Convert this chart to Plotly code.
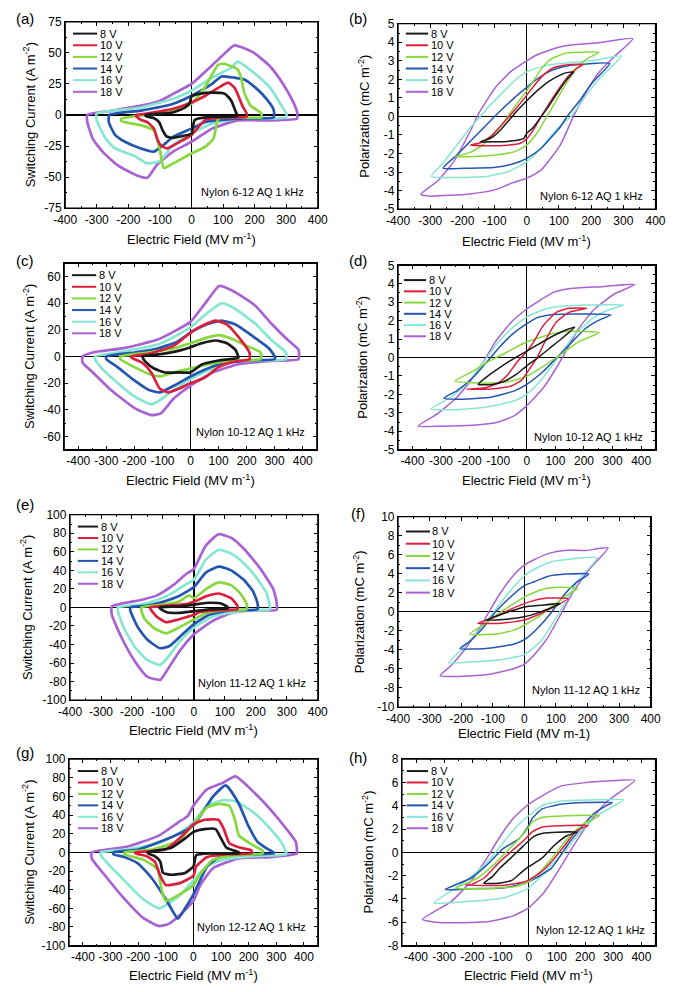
import plotly.graph_objects as go

W, H = 680, 992
FONT = "Liberation Sans, Arial, sans-serif"

VOLTAGES = ["8 V", "10 V", "12 V", "14 V", "16 V", "18 V"]
COLORS = ["#1a1a1a", "#dc1f3d", "#86d83c", "#2456b0", "#86e6d2", "#a862d2"]

# ---------------- (a) Nylon 6-12 switching current  [E (MV/m), J (A/m2)] ----------------
A_8V = [(-145, 0), (-100, 1), (-60, 2), (-20, 6), (-5, 10), (0, 15), (24, 17), (65, 18), (106, 17), (126, 11.5), (141, 2), (145, 0),
        (145, -1), (100, -1.5), (60, -1.5), (10, -4), (0, -15), (-30, -17), (-60, -18.5), (-80, -17), (-92, -12), (-102, -6), (-120, -2.5), (-145, -1)]
A_10V = [(-175, 0), (-160, 0.5), (-58, 5), (0, 10), (44, 15.5), (95, 23.4), (116, 26), (136, 22), (146, 17), (161, 7.5), (175, 1),
         (175, -1.5), (95, -2), (44, -4), (0, -16), (-37, -21.6), (-78, -27), (-99, -24), (-109, -19), (-119, -11), (-140, -5.7), (-160, -4), (-175, -1)]
A_12V = [(-222, -3), (-150, 0), (-88, 1.7), (-37, 5), (0, 9), (44, 23), (85, 40.5), (106, 41), (146, 36.6), (157, 30), (167, 18), (187, 7.5), (218, 2.2), (222, 0),
         (222, -2), (146, -2), (85, -3), (70, -19), (44, -25.5), (0, -31), (-58, -39), (-88, -42.7), (-99, -29.5), (-119, -12.3), (-160, -8.3), (-222, -5)]
A_14V = [(-260, 0), (-160, 3.5), (-58, 9), (0, 15.5), (65, 25), (95, 31), (136, 30), (167, 28.6), (208, 20.8), (238, 12.8), (259, 5), (262, 0),
         (260, -2), (146, -3), (44, -5.7), (0, -11), (-58, -17.6), (-88, -24), (-119, -29.5), (-160, -27), (-211, -21.6), (-242, -16), (-262, -5.7)]
A_16V = [(-300, 1), (-160, 6), (-58, 13), (0, 19.5), (65, 30), (126, 38), (146, 43), (198, 34), (249, 22), (279, 10), (300, 1),
         (300, -2), (146, -3), (65, -7), (0, -15), (-58, -24), (-99, -37), (-140, -39), (-180, -33), (-242, -27), (-272, -19), (-300, -4.5)]
A_18V = [(-330, 0), (-262, 3), (-160, 7.5), (-99, 11.5), (-58, 17), (0, 25), (44, 35), (95, 47), (136, 56), (198, 50), (249, 39), (290, 25), (320, 11.5), (335, 2), (335, 0),
         (335, -3), (249, -4.4), (146, -4.4), (65, -11), (0, -21.6), (-58, -29.5), (-109, -40), (-140, -50.6), (-170, -49), (-231, -41), (-282, -29.5), (-313, -19), (-330, -5.7)]

# ---------------- (b) Nylon 6-12 polarization  [E (MV/m), P (mC/m2)] ----------------
B_8V = [(145, 2.4), (120, 2.35), (100, 2.2), (70, 1.9), (40, 1.5), (0, 0.85), (-30, 0.3), (-50, -0.1), (-80, -0.7), (-110, -1.15), (-145, -1.37),
        (-100, -1.37), (-50, -1.33), (-10, -1.2), (0, -0.9), (20, -0.6), (45, 0), (70, 0.6), (100, 1.4), (125, 2.0), (145, 2.4)]
B_10V = [(175, 2.8), (140, 2.8), (110, 2.75), (80, 2.6), (50, 2.2), (20, 1.6), (0, 1.15), (-30, 0.5), (-55, 0), (-80, -0.5), (-110, -1.05), (-140, -1.4), (-175, -1.55),
         (-120, -1.58), (-60, -1.55), (-20, -1.45), (0, -1.2), (25, -0.6), (45, 0), (70, 0.7), (100, 1.5), (130, 2.2), (155, 2.6), (175, 2.8)]
B_12V = [(224, 3.47), (180, 3.47), (124, 3.43), (74, 3.08), (44, 2.54), (24, 2.0), (0, 1.39), (-27, 0.77), (-57, 0.05), (-87, -0.66), (-117, -1.2), (-137, -1.55), (-177, -1.95), (-222, -2.17),
         (-177, -2.17), (-97, -2.08), (-37, -1.9), (0, -1.55), (34, -0.84), (64, 0.05), (94, 0.94), (124, 1.83), (154, 2.54), (184, 3.08), (224, 3.47)]
B_14V = [(258, 2.86), (174, 2.81), (124, 2.72), (74, 2.46), (24, 1.92), (0, 1.57), (-37, 1.03), (-97, 0.05), (-137, -0.66), (-177, -1.37), (-217, -2.08), (-260, -2.79),
         (-177, -2.79), (-97, -2.74), (-37, -2.53), (0, -2.26), (44, -1.73), (104, -0.57), (124, -0.04), (164, 0.85), (204, 1.83), (258, 2.86)]
B_16V = [(295, 3.26), (200, 3.0), (100, 2.85), (50, 2.7), (0, 2.4), (-40, 1.9), (-80, 1.2), (-120, 0.5), (-145, 0), (-180, -0.7), (-220, -1.6), (-260, -2.5), (-297, -3.24),
         (-230, -3.3), (-127, -3.24), (-57, -2.97), (0, -2.44), (44, -1.73), (94, -0.66), (140, 0.05), (184, 1.12), (224, 2.0), (265, 2.72), (295, 3.26)]
B_18V = [(330, 4.2), (224, 3.97), (124, 3.83), (74, 3.6), (24, 3.26), (0, 3.0), (-47, 2.46), (-97, 1.57), (-147, 0.23), (-177, -0.84), (-227, -2.44), (-278, -3.5), (-330, -4.2),
         (-298, -4.3), (-177, -4.18), (-97, -3.95), (-47, -3.6), (0, -3.33), (44, -2.9), (104, -1.55), (144, -0.04), (184, 1.3), (224, 2.37), (274, 3.26), (330, 4.2)]

# ---------------- (c) Nylon 10-12 switching current ----------------
C_8V = [(-170, 0), (-100, 2), (-30, 5), (0, 7), (40, 10), (90, 12), (130, 10), (160, 5), (170, 0),
        (170, -1), (100, -3), (40, -6), (0, -12), (-40, -12), (-90, -12), (-130, -9), (-160, -4), (-170, -1)]
C_10V = [(-210, 0), (-150, 2), (-60, 8), (0, 18), (40, 23), (90, 27), (130, 24), (170, 15), (210, 3),
         (210, -2), (150, -4), (100, -8), (50, -16), (0, -20), (-40, -24), (-80, -27), (-110, -24), (-140, -12), (-170, -5), (-210, -1)]
C_12V = [(-250, 0), (-150, 3), (-60, 6), (0, 10), (56, 14), (100, 16), (150, 13), (200, 8), (250, 3),
         (250, -2), (150, -3), (80, -5), (0, -9), (-60, -12), (-110, -15), (-150, -13), (-200, -8), (-250, -2)]
C_14V = [(-300, 0), (-200, 3), (-117, 6), (-48, 11), (0, 18), (56, 24), (110, 27), (160, 24), (230, 14), (280, 6), (300, 0),
         (300, -2), (200, -3), (100, -6), (50, -10), (0, -15), (-60, -22), (-110, -27), (-150, -25), (-200, -18), (-260, -8), (-300, -2)]
C_16V = [(-340, 0), (-233, 4), (-117, 9), (-48, 16), (0, 22), (56, 32), (110, 40), (150, 37), (229, 25), (290, 12), (340, 3),
         (340, -2), (230, -3), (150, -4), (79, -9), (0, -17), (-60, -25), (-110, -33), (-140, -36), (-200, -30), (-270, -18), (-320, -8), (-340, -2)]
C_18V = [(-385, 0), (-348, 3), (-233, 6.5), (-117, 12.7), (-48, 20), (0, 26), (56, 41), (102, 53), (148, 49.6), (229, 38.5), (287, 25), (345, 12.7), (385, 5),
         (385, -2), (287, -3.3), (171, -5.8), (79, -12), (0, -21.8), (-60, -31.6), (-106, -42.7), (-140, -44), (-198, -39), (-290, -24), (-348, -12), (-385, -4.5)]

# ---------------- (d) Nylon 10-12 polarization ----------------
D_8V = [(168, 1.65), (130, 1.45), (90, 1.15), (50, 0.8), (0, 0.35), (-50, -0.1), (-100, -0.6), (-140, -1.05), (-170, -1.46),
        (-120, -1.46), (-80, -1.3), (-40, -0.95), (0, -0.45), (40, 0), (80, 0.5), (120, 1.0), (168, 1.65)]
D_10V = [(209, 2.67), (148, 2.67), (103, 2.45), (58, 1.74), (24, 0.85), (0, 0.32), (-32, -0.21), (-66, -0.92), (-99, -1.37), (-144, -1.64), (-211, -1.72),
         (-133, -1.72), (-54, -1.55), (-15, -1.19), (0, -0.84), (35, -0.04), (69, 1.03), (103, 1.92), (148, 2.45), (209, 2.67)]
D_12V = [(254, 1.35), (148, 1.42), (91, 1.3), (35, 1.03), (0, 0.85), (-77, 0.23), (-133, -0.21), (-189, -0.75), (-251, -1.28),
         (-189, -1.37), (-99, -1.37), (-32, -1.19), (0, -1.01), (58, -0.48), (125, 0.23), (181, 0.85), (254, 1.35)]
D_14V = [(294, 2.31), (204, 2.36), (91, 2.33), (35, 2.15), (0, 1.83), (-54, 1.21), (-99, 0.5), (-133, -0.12), (-189, -1.1), (-245, -1.81), (-290, -2.2),
         (-245, -2.26), (-133, -2.17), (-43, -1.81), (0, -1.46), (58, -0.75), (103, -0.04), (148, 0.68), (204, 1.56), (249, 2.0), (294, 2.31)]
D_16V = [(338, 2.84), (204, 2.84), (91, 2.72), (35, 2.45), (0, 2.19), (-54, 1.56), (-99, 0.85), (-133, 0.14), (-167, -0.57), (-212, -1.46), (-268, -2.17), (-335, -2.79),
         (-245, -2.83), (-133, -2.67), (-43, -2.35), (0, -1.99), (47, -1.28), (91, -0.39), (125, 0.32), (170, 1.3), (237, 2.19), (294, 2.63), (338, 2.84)]
D_18V = [(378, 3.96), (260, 3.84), (148, 3.73), (91, 3.52), (35, 2.99), (0, 2.63), (-54, 1.92), (-110, 0.85), (-144, -0.04), (-189, -1.1), (-245, -2.17), (-313, -3.06), (-380, -3.72),
         (-301, -3.73), (-189, -3.68), (-99, -3.5), (-43, -3.15), (0, -2.61), (58, -1.64), (103, -0.57), (136, 0.32), (181, 1.56), (237, 2.63), (305, 3.43), (378, 3.96)]

# ---------------- (e) Nylon 11-12 switching current ----------------
E_8V = [(-110, 0), (-50, 1), (0, 3), (50, 5), (90, 4), (110, 0),
        (110, -1), (50, -2), (0, -4), (-50, -6), (-90, -5), (-110, -1)]
E_10V = [(-140, 0), (-80, 2), (-20, 4), (0, 6), (40, 12), (80, 15), (120, 10), (140, 2),
         (140, -2), (80, -3), (20, -5), (0, -8), (-50, -13), (-90, -16), (-120, -10), (-140, -2)]
E_12V = [(-170, 0), (-100, 3), (-50, 6), (-15, 13), (0, 10), (40, 20), (80, 27), (120, 24), (150, 15), (170, 4),
         (170, -2), (100, -3), (40, -6), (0, -13), (-50, -22), (-90, -28), (-130, -22), (-160, -12), (-170, -3)]
E_14V = [(-205, 0), (-150, 2), (-100, 6), (-50, 12), (0, 22), (40, 38), (80, 44), (120, 40), (160, 30), (190, 18), (205, 5),
         (205, -2), (120, -3), (50, -8), (0, -18), (-40, -30), (-80, -42), (-110, -44), (-150, -35), (-180, -22), (-205, -4)]
E_16V = [(-245, 0), (-171, 3), (-119, 8), (-67, 16), (-25, 25), (0, 30), (40, 52), (80, 62), (121, 58), (160, 48), (200, 33), (235, 15), (246, 0),
         (246, -2), (150, -4), (60, -10), (0, -22), (-46, -37), (-87, -55), (-108, -62), (-150, -57), (-190, -43), (-225, -23), (-245, -5)]
E_18V = [(-265, 1), (-171, 8), (-119, 13), (-67, 24), (-25, 36), (0, 41.6), (37, 66), (79, 79), (121, 75), (162, 63), (215, 41.6), (256, 20), (267, 6),
         (267, -2.7), (194, -3), (121, -6), (58, -15), (0, -29), (-46, -47), (-87, -68), (-108, -78), (-150, -75), (-192, -57.5), (-233, -33), (-265, -8)]

# ---------------- (f) Nylon 11-12 polarization ----------------
F_8V = [(114, 0.86), (52, 0.69), (0, 0.52), (-50, 0), (-122, -0.86),
        (-50, -0.76), (0, -0.52), (52, 0), (114, 0.86)]
F_10V = [(139, 1.38), (73, 1.45), (21, 1.1), (0, 0.86), (-50, 0.17), (-91, -0.52), (-147, -1.2),
         (-71, -1.2), (0, -0.86), (52, -0.17), (93, 0.52), (139, 1.38)]
F_12V = [(170, 2.48), (114, 2.59), (62, 2.41), (21, 1.9), (0, 1.55), (-50, 0.52), (-81, -0.17), (-122, -1.2), (-173, -2.34),
         (-91, -2.34), (-30, -1.9), (0, -1.38), (52, -0.34), (93, 0.69), (134, 1.72), (170, 2.48)]
F_14V = [(204, 3.97), (134, 3.97), (73, 3.72), (32, 3.17), (0, 2.76), (-50, 1.38), (-91, 0), (-132, -1.72), (-173, -3.1), (-204, -3.86),
         (-122, -3.86), (-40, -3.45), (0, -2.93), (42, -1.72), (83, -0.17), (124, 1.72), (165, 3.1), (204, 3.97)]
F_16V = [(231, 5.69), (134, 5.5), (83, 5.24), (32, 4.48), (0, 3.79), (-40, 2.41), (-81, 0.69), (-101, -0.17), (-142, -1.9), (-193, -3.79), (-239, -5.34),
         (-173, -5.28), (-71, -5.0), (0, -4.48), (52, -3.1), (93, -1.03), (124, 0.69), (165, 3.1), (231, 5.69)]
F_18V = [(265, 6.72), (195, 6.45), (134, 6.48), (83, 6.2), (32, 5.5), (0, 4.9), (-40, 3.62), (-81, 1.72), (-112, 0), (-142, -1.72), (-193, -4.14), (-234, -5.7), (-267, -6.72),
         (-224, -6.79), (-122, -6.62), (-40, -6.03), (0, -5.5), (32, -4.48), (73, -2.76), (114, -0.34), (154, 2.07), (206, 4.48), (265, 6.72)]

# ---------------- (g) Nylon 12-12 switching current ----------------
G_8V = [(-165, 0), (-80, 5), (-30, 15), (0, 22), (40, 25), (80, 25), (100, 15), (120, 5), (165, 0),
        (165, -1), (60, -1), (10, -3), (0, -15), (-30, -22), (-80, -24), (-110, -22), (-120, -10), (-140, -4), (-165, -1)]
G_10V = [(-210, 0), (-100, 3), (-40, 18), (0, 30), (40, 35), (90, 35), (110, 25), (130, 10), (170, 5), (210, 2),
         (210, -1), (120, -2), (50, -5), (10, -15), (0, -25), (-50, -33), (-100, -35), (-120, -25), (-140, -10), (-170, -4), (-210, -1)]
G_12V = [(-250, 0), (-150, 3), (-56, 12), (0, 30), (48, 48), (90, 52), (130, 50), (150, 35), (165, 18), (220, 7), (250, 2),
         (250, -1), (150, -3), (70, -8), (20, -25), (0, -35), (-50, -45), (-100, -52), (-115, -40), (-130, -18), (-180, -8), (-250, -2)]
G_14V = [(-290, 0), (-200, 3), (-67, 18), (0, 29), (71, 60), (117, 72), (163, 53), (198, 29), (233, 11), (267, 4), (290, 0),
         (290, -1), (200, -2), (100, -4), (50, -15), (0, -45), (-30, -60), (-56, -71), (-100, -50), (-150, -28), (-200, -12), (-250, -5), (-290, -2)]
G_16V = [(-335, 0), (-241, 3), (-125, 10), (-56, 20), (0, 32), (48, 50), (106, 56), (152, 55), (221, 42), (279, 25), (320, 10), (335, 0),
         (335, -2), (221, -4), (106, -8), (48, -15), (0, -30), (-45, -45), (-91, -55), (-125, -60), (-183, -50), (-241, -33), (-300, -15), (-335, -3)]
G_18V = [(-368, 0), (-241, 6), (-125, 18), (-56, 32), (-21, 39), (0, 50), (48, 67.5), (106, 74.6), (152, 81.6), (221, 64), (279, 46), (337, 25), (371, 11), (375, 0),
         (375, -1), (279, -5), (163, -6.5), (71, -17), (25, -35), (0, -52), (-45, -66), (-91, -77), (-125, -79), (-183, -70), (-264, -45), (-322, -24), (-368, -6.5)]

# ---------------- (h) Nylon 12-12 polarization ----------------
H_8V = [(171, 1.74), (100, 1.74), (50, 1.65), (20, 1.4), (0, 1.0), (-30, 0.3), (-60, -0.4), (-100, -1.3), (-130, -2.1), (-160, -2.65),
        (-100, -2.62), (-60, -2.4), (-23, -1.65), (0, -1.23), (46, -0.52), (91, 0.61), (137, 1.45), (171, 1.74)]
H_10V = [(211, 2.3), (137, 2.3), (46, 2.16), (11, 1.74), (-11, 1.17), (-57, 0.18), (-103, -0.81), (-160, -2.22), (-206, -2.78), (-225, -2.8),
         (-91, -2.84), (-11, -2.5), (46, -1.65), (91, -0.52), (137, 0.89), (171, 1.88), (211, 2.3)]
H_12V = [(251, 3.15), (137, 3.15), (46, 3.0), (11, 2.58), (0, 2.16), (-34, 1.17), (-80, 0.04), (-126, -1.09), (-183, -2.22), (-257, -3.06),
         (-149, -3.12), (-46, -2.92), (0, -2.5), (46, -1.51), (91, -0.24), (137, 1.17), (194, 2.44), (251, 3.15)]
H_14V = [(297, 4.28), (206, 4.28), (114, 4.14), (46, 3.71), (11, 2.87), (0, 2.3), (-34, 1.17), (-91, 0.32), (-149, -1.09), (-206, -2.22), (-297, -3.2),
         (-206, -3.12), (-91, -3.06), (-11, -2.64), (23, -2.22), (80, -1.37), (114, -0.24), (137, 0.61), (183, 2.02), (229, 3.29), (274, 4.0), (297, 4.28)]
H_16V = [(337, 4.51), (229, 4.51), (114, 4.42), (46, 4.0), (0, 3.15), (-34, 2.44), (-80, 1.17), (-126, -0.24), (-183, -1.65), (-251, -2.92), (-337, -4.34),
         (-206, -4.2), (-91, -3.91), (0, -3.06), (69, -1.37), (126, 0.04), (183, 1.74), (251, 3.29), (337, 4.51)]
H_18V = [(377, 6.2), (309, 6.17), (194, 5.97), (114, 5.69), (57, 4.99), (0, 4.14), (-57, 2.87), (-114, 0.89), (-149, -0.52), (-206, -2.5), (-274, -4.2), (-377, -5.75),
         (-320, -6.03), (-149, -5.95), (-57, -5.47), (0, -4.76), (57, -3.35), (114, -1.23), (160, 0.61), (206, 2.3), (274, 4.28), (377, 6.2)]

# tick values
X_TICKS = [-400, -300, -200, -100, 0, 100, 200, 300, 400]
Y_TICKS_A = [-75, -50, -25, 0, 25, 50, 75]
Y_TICKS_C = [-60, -40, -20, 0, 20, 40, 60]
Y_TICKS_P5 = [-5, -4, -3, -2, -1, 0, 1, 2, 3, 4, 5]
Y_TICKS_100 = [-100, -80, -60, -40, -20, 0, 20, 40, 60, 80, 100]
Y_TICKS_P10 = [-10, -8, -6, -4, -2, 0, 2, 4, 6, 8, 10]
Y_TICKS_P8 = [-8, -6, -4, -2, 0, 2, 4, 6, 8]

J_TITLE = "Switching Current (A m<sup>-2</sup>)"
P_TITLE = "Polarization (mC m<sup>-2</sup>)"
E_TITLE = "Electric Field (MV m<sup>-1</sup>)"

# layout: rect = (left, top, right, bottom) in px; leg = (dx0, dx1, dy0, spacing, fontsize)
PANELS = [
    dict(lab="(a)", lab_xy=(13, 12), series=[A_8V, A_10V, A_12V, A_14V, A_16V, A_18V], kind="J",
         rect=(55, 15, 316, 204), xr=[-400, 400], yr=[-75, 75], yt=Y_TICKS_A, ymin=12.5,
         ytitle=J_TITLE, ytx=18, xtitle=E_TITLE, xty=31, note="Nylon 6-12 AQ 1 kHz", note_off=(13, 16),
         leg=(8, 33, 12, 11.8, 11)),
    dict(lab="(b)", lab_xy=(358, 12), series=[B_8V, B_10V, B_12V, B_14V, B_16V, B_18V], kind="P",
         rect=(399, 17, 665, 205), xr=[-400, 400], yr=[-5, 5], yt=Y_TICKS_P5, ymin=0.5,
         ytitle=P_TITLE, ytx=364, xtitle=E_TITLE, xty=32, note="Nylon 6-12 AQ 1 kHz", note_off=(12, 13),
         leg=(8, 31, 10, 11.8, 11)),
    dict(lab="(c)", lab_xy=(13, 257), series=[C_8V, C_10V, C_12V, C_14V, C_16V, C_18V], kind="J",
         rect=(54, 260, 315, 449), xr=[-450, 450], yr=[-70, 70], yt=Y_TICKS_C, ymin=10,
         ytitle=J_TITLE, ytx=18, xtitle=E_TITLE, xty=31, note="Nylon 10-12 AQ 1 kHz", note_off=(11, 18),
         leg=(8, 33, 12, 11.8, 11)),
    dict(lab="(d)", lab_xy=(358, 257), series=[D_8V, D_10V, D_12V, D_14V, D_16V, D_18V], kind="P",
         rect=(399, 262, 665, 449), xr=[-450, 450], yr=[-5, 5], yt=Y_TICKS_P5, ymin=0.5,
         ytitle=P_TITLE, ytx=362, xtitle=E_TITLE, xty=31, note="Nylon 10-12 AQ 1 kHz", note_off=(12, 13),
         leg=(6, 29, 15, 11.4, 11)),
    dict(lab="(e)", lab_xy=(13, 505), series=[E_8V, E_10V, E_12V, E_14V, E_16V, E_18V], kind="J",
         rect=(60, 515, 316, 703), xr=[-400, 400], yr=[-100, 100], yt=Y_TICKS_100, ymin=10,
         ytitle=J_TITLE, ytx=15, xtitle=E_TITLE, xty=30, note="Nylon 11-12 AQ 1 kHz", note_off=(11, 17),
         leg=(8, 29, 12, 11.6, 11)),
    dict(lab="(f)", lab_xy=(358, 514), series=[F_8V, F_10V, F_12V, F_14V, F_16V, F_18V], kind="P",
         rect=(399, 517, 660, 710), xr=[-400, 400], yr=[-10, 10], yt=Y_TICKS_P10, ymin=1,
         ytitle=P_TITLE, ytx=358, xtitle="Electric Field (MV m-1)", xty=27, note="Nylon 11-12 AQ 1 kHz", note_off=(10, 17),
         leg=(8, 33, 15, 12.4, 11)),
    dict(lab="(g)", lab_xy=(13, 756), series=[G_8V, G_10V, G_12V, G_14V, G_16V, G_18V], kind="J",
         rect=(59, 763, 316, 952), xr=[-450, 450], yr=[-100, 100], yt=Y_TICKS_100, ymin=10,
         ytitle=J_TITLE, ytx=17, xtitle=E_TITLE, xty=30, note="Nylon 12-12 AQ 1 kHz", note_off=(11, 19),
         leg=(9, 30, 12, 11.6, 11)),
    dict(lab="(h)", lab_xy=(358, 761), series=[H_8V, H_10V, H_12V, H_14V, H_16V, H_18V], kind="P",
         rect=(403, 763, 665, 952), xr=[-450, 450], yr=[-8, 8], yt=Y_TICKS_P8, ymin=1,
         ytitle=P_TITLE, ytx=368, xtitle=E_TITLE, xty=30, note="Nylon 12-12 AQ 1 kHz", note_off=(10, 16),
         leg=(5, 27, 12, 11.6, 11)),
]


def fx(x):
    return x / W


def fy(y):
    return 1 - y / H


def note(text, x, y, size, xanchor="center", angle=0):
    return dict(text=text, x=fx(x), y=fy(y), xref="paper", yref="paper", xanchor=xanchor, yanchor="middle",
                showarrow=False, textangle=angle, borderpad=0,
                font=dict(family=FONT, size=size, color="black"))


fig = go.Figure()
annotations = []
shapes = []

for i, p in enumerate(PANELS):
    n = i + 1
    sfx = "" if n == 1 else str(n)
    xa, ya = "x" + sfx, "y" + sfx
    L, T, R, B = p["rect"]
    lw = 2.7 if p["kind"] == "J" else 1.5
    # draw larger loops first so small loops stay visible
    for s in reversed(range(6)):
        pts = list(p["series"][s])
        if pts[-1] != pts[0]:
            pts = pts + [pts[0]]
        fig.add_trace(go.Scatter(
            x=[q[0] for q in pts], y=[q[1] for q in pts], mode="lines",
            line=dict(color=COLORS[s], width=lw, shape="spline", smoothing=0.5),
            xaxis=xa, yaxis=ya, showlegend=False, hoverinfo="skip"))

    common = dict(showline=True, linecolor="black", linewidth=1.2, mirror="allticks",
                  ticks="inside", ticklen=4, tickwidth=1, tickcolor="black",
                  showgrid=False, zeroline=True, zerolinecolor="black", zerolinewidth=1.3,
                  tickfont=dict(family=FONT, size=12, color="black"))
    fig.update_layout({
        "xaxis" + sfx: dict(
            common, domain=[fx(L), fx(R)], range=p["xr"], anchor=ya,
            tickmode="array", tickvals=X_TICKS, ticktext=[str(v) for v in X_TICKS],
            minor=dict(ticks="inside", ticklen=2, tickcolor="black", tickmode="linear", tick0=0, dtick=50)),
        "yaxis" + sfx: dict(
            common, domain=[fy(B), fy(T)], range=p["yr"], anchor=xa,
            tickmode="array", tickvals=p["yt"], ticktext=[str(v) for v in p["yt"]],
            minor=dict(ticks="inside", ticklen=2, tickcolor="black", tickmode="linear", tick0=0, dtick=p["ymin"])),
    })
    # frame
    shapes.append(dict(type="rect", xref=xa + " domain", yref=ya + " domain", x0=0, x1=1, y0=0, y1=1,
                       line=dict(color="black", width=1.2), fillcolor="rgba(0,0,0,0)", layer="above"))

    annotations.append(note(p["lab"], p["lab_xy"][0], p["lab_xy"][1], 15))
    annotations.append(note(p["xtitle"], (L + R) / 2, B + p["xty"], 13))
    annotations.append(note(p["ytitle"], p["ytx"], (T + B) / 2, 13, angle=-90))
    annotations.append(note(p["note"], R - p["note_off"][0], B - p["note_off"][1], 11, xanchor="right"))
    dx0, dx1, dy0, sp, fs = p["leg"]
    for s in range(6):
        yy = T + dy0 + s * sp
        shapes.append(dict(type="line", xref="paper", yref="paper", x0=fx(L + dx0), x1=fx(L + dx1),
                           y0=fy(yy), y1=fy(yy), line=dict(color=COLORS[s], width=2)))
        annotations.append(note(VOLTAGES[s], L + dx1 + 1.5, yy, fs, xanchor="left"))

fig.update_layout(
    width=W, height=H, autosize=False,
    margin=dict(l=0, r=0, t=0, b=0, pad=0),
    paper_bgcolor="white", plot_bgcolor="white",
    showlegend=False,
    font=dict(family=FONT, color="black"),
    annotations=annotations, shapes=shapes,
)

fig.write_html("out.html",
               config={"displayModeBar": False, "staticPlot": True},
               post_script="document.body.style.margin='0px';document.documentElement.style.overflow='hidden';")
